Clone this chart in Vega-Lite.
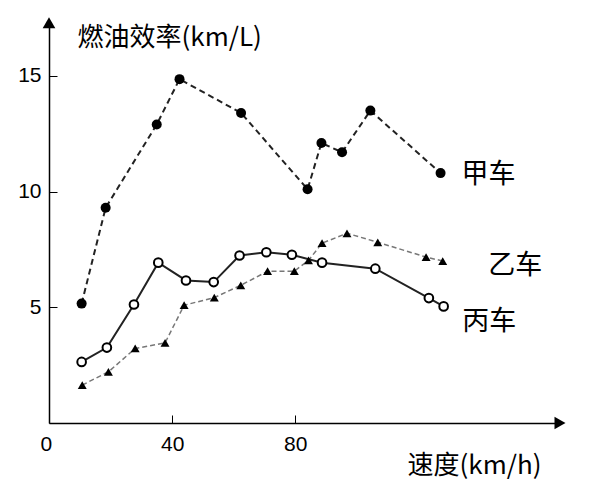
{
  "$schema": "https://vega.github.io/schema/vega-lite/v6.json",
  "width": 511,
  "height": 398,
  "autosize": "none",
  "padding": {"left": 49, "top": 25, "right": 49, "bottom": 72},
  "config": {"view": {"stroke": null}, "font": "Noto Sans CJK SC"},
  "datasets": {
    "pts": [
      {"car": "甲车", "speed": 10.6, "eff": 5.16}, {"car": "甲车", "speed": 18.4, "eff": 9.3},
      {"car": "甲车", "speed": 35.0, "eff": 12.9}, {"car": "甲车", "speed": 42.4, "eff": 14.86},
      {"car": "甲车", "speed": 62.4, "eff": 13.4}, {"car": "甲车", "speed": 84.0, "eff": 10.1},
      {"car": "甲车", "speed": 88.5, "eff": 12.1}, {"car": "甲车", "speed": 95.2, "eff": 11.7},
      {"car": "甲车", "speed": 104.4, "eff": 13.5}, {"car": "甲车", "speed": 127.2, "eff": 10.8},
      {"car": "乙车", "speed": 10.8, "eff": 1.64}, {"car": "乙车", "speed": 19.3, "eff": 2.21},
      {"car": "乙车", "speed": 28.0, "eff": 3.22}, {"car": "乙车", "speed": 37.7, "eff": 3.46},
      {"car": "乙车", "speed": 43.9, "eff": 5.09}, {"car": "乙车", "speed": 53.7, "eff": 5.42},
      {"car": "乙车", "speed": 62.3, "eff": 5.95}, {"car": "乙车", "speed": 71.0, "eff": 6.56},
      {"car": "乙车", "speed": 79.7, "eff": 6.56}, {"car": "乙车", "speed": 84.3, "eff": 7.03},
      {"car": "乙车", "speed": 88.7, "eff": 7.77}, {"car": "乙车", "speed": 96.8, "eff": 8.2},
      {"car": "乙车", "speed": 106.8, "eff": 7.81}, {"car": "乙车", "speed": 122.5, "eff": 7.17},
      {"car": "乙车", "speed": 127.9, "eff": 7.0},
      {"car": "丙车", "speed": 10.6, "eff": 2.64}, {"car": "丙车", "speed": 18.8, "eff": 3.26},
      {"car": "丙车", "speed": 27.6, "eff": 5.12}, {"car": "丙车", "speed": 35.5, "eff": 6.93},
      {"car": "丙车", "speed": 44.5, "eff": 6.16}, {"car": "丙车", "speed": 53.5, "eff": 6.09},
      {"car": "丙车", "speed": 61.9, "eff": 7.24}, {"car": "丙车", "speed": 70.6, "eff": 7.38},
      {"car": "丙车", "speed": 78.9, "eff": 7.27}, {"car": "丙车", "speed": 88.7, "eff": 6.93},
      {"car": "丙车", "speed": 106.0, "eff": 6.67}, {"car": "丙车", "speed": 123.4, "eff": 5.4},
      {"car": "丙车", "speed": 128.2, "eff": 5.04}
    ],
    "labels": [
      {"car": "甲车", "speed": 142.8, "eff": 10.7},
      {"car": "乙车", "speed": 151.5, "eff": 6.8},
      {"car": "丙车", "speed": 143.0, "eff": 4.35}
    ],
    "arrows": [
      {"speed": 0, "eff": 17.3, "shape": "triangle-up"},
      {"speed": 166, "eff": 0, "shape": "triangle-right"}
    ]
  },
  "encoding": {
    "x": {"field": "speed", "type": "quantitative", "scale": {"domain": [0, 166], "nice": false},
      "axis": {"values": [0, 40, 80], "grid": false, "tickSize": -8, "labelPadding": 18, "labelFontSize": 21, "labelColor": "black",
        "domainColor": "black", "tickColor": "black", "domainWidth": 1.5, "labelFont": "Liberation Sans",
        "labelOffset": {"expr": "datum.value == 0 ? -9 : 0"},
        "title": "速度(km/h)", "titleFontSize": 26, "titleFontWeight": "normal", "titleAnchor": "start", "titleAlign": "left",
        "titleX": 358, "titleY": 42, "titleBaseline": "middle"}},
    "y": {"field": "eff", "type": "quantitative", "scale": {"domain": [0, 17.2], "nice": false},
      "axis": {"values": [5, 10, 15], "grid": false, "tickSize": -8, "labelPadding": 16, "labelFontSize": 21, "labelColor": "black",
        "domainColor": "black", "tickColor": "black", "domainWidth": 1.5, "labelFont": "Liberation Sans",
        "title": "燃油效率(km/L)", "titleAngle": 0, "titleFontSize": 26, "titleFontWeight": "normal", "titleAlign": "left",
        "titleX": 28, "titleY": 12, "titleBaseline": "middle"}}
  },
  "layer": [
    {"data": {"name": "pts"}, "transform": [{"filter": "datum.car == '甲车'"}],
      "mark": {"type": "line", "color": "#222", "strokeDash": [6, 4], "strokeWidth": 2}, "encoding": {}},
    {"data": {"name": "pts"}, "transform": [{"filter": "datum.car == '乙车'"}],
      "mark": {"type": "line", "color": "#777", "strokeDash": [5, 3], "strokeWidth": 1.5}, "encoding": {}},
    {"data": {"name": "pts"}, "transform": [{"filter": "datum.car == '丙车'"}],
      "mark": {"type": "line", "color": "#222", "strokeWidth": 2}, "encoding": {}},
    {"data": {"name": "pts"}, "transform": [{"filter": "datum.car == '甲车'"}],
      "mark": {"type": "point", "shape": "circle", "filled": true, "color": "black", "size": 100, "opacity": 1}},
    {"data": {"name": "pts"}, "transform": [{"filter": "datum.car == '乙车'"}],
      "mark": {"type": "point", "shape": "triangle-up", "filled": true, "color": "black", "size": 80, "opacity": 1}},
    {"data": {"name": "pts"}, "transform": [{"filter": "datum.car == '丙车'"}],
      "mark": {"type": "point", "shape": "circle", "filled": true, "fill": "white", "stroke": "black", "strokeWidth": 2, "size": 75, "opacity": 1}},
    {"data": {"name": "labels"}, "mark": {"type": "text", "fontSize": 27, "color": "black"},
      "encoding": {"text": {"field": "car"}}},
    {"data": {"name": "arrows"}, "mark": {"type": "point", "filled": true, "color": "black", "size": 160, "opacity": 1},
      "encoding": {"shape": {"field": "shape", "type": "nominal", "scale": null}}}
  ]
}
